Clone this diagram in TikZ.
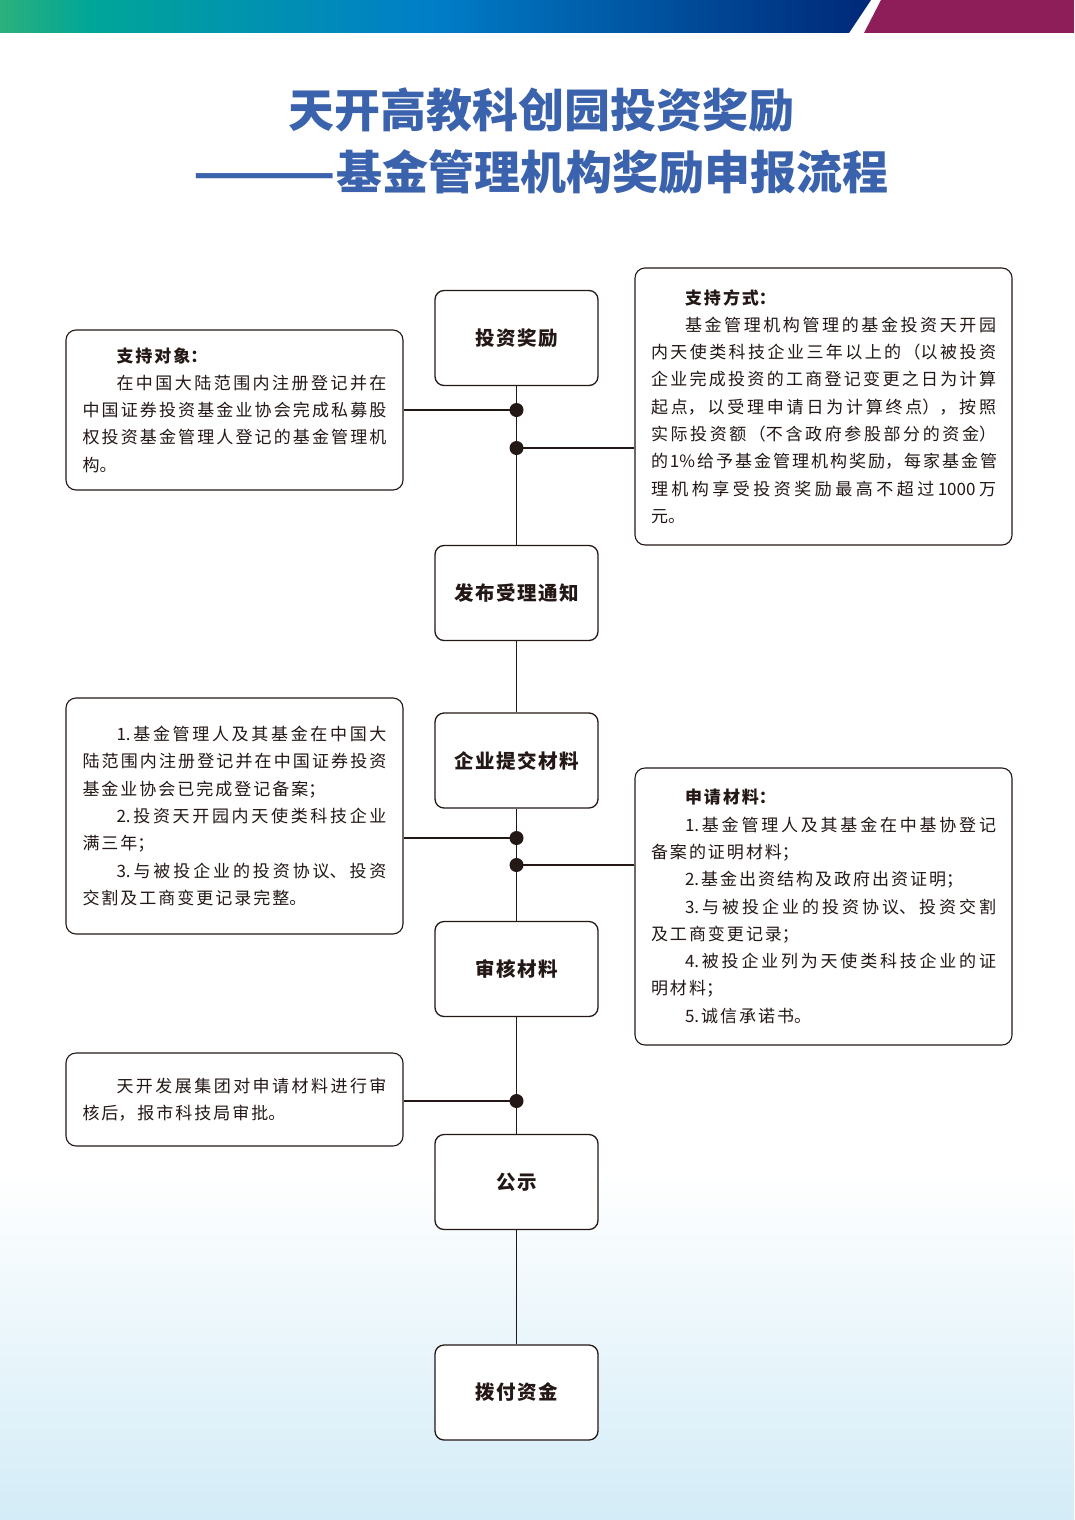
\documentclass[tikz,border=0pt]{standalone}
\usepackage{fontspec}
\usepackage{xcolor}
\usepackage{graphicx}
\setmainfont{Noto Sans CJK SC}
\newfontfamily\titlefont{Noto Sans CJK SC}
\newfontfamily\stepfont{Noto Sans CJK SC}
\newfontfamily\bodyfont{Noto Sans CJK SC}
\XeTeXlinebreaklocale "zh"
\XeTeXlinebreakskip=0pt plus 3pt\relax
\XeTeXlinebreakpenalty=10000\relax
\newcommand\titlesetup{\titlefont\bfseries\fontsize{46}{50}\selectfont\XeTeXlinebreakskip=0pt\relax}
\newcommand\stepsetup{\stepfont\bfseries\fontsize{19.5}{24}\selectfont\XeTeXlinebreakskip=1.6pt\relax}
\newcommand\bodysetup{\bodyfont\fontsize{17}{27.3}\selectfont\XeTeXlinebreakskip=2pt plus 3pt\relax}
\definecolor{ink}{RGB}{35,24,21}
\definecolor{titleblue}{RGB}{59,98,172}
\definecolor{bgreen}{RGB}{44,176,124}
\definecolor{bteal}{RGB}{0,166,152}
\definecolor{bblue}{RGB}{0,126,200}
\definecolor{bnavy}{RGB}{0,40,120}
\definecolor{bmagenta}{RGB}{142,30,90}
\definecolor{bgblue}{RGB}{211,236,247}

\begin{document}
\begin{tikzpicture}[x=1pt, y=-1pt,
    title/.style = {inner sep=0pt, text=titleblue, font=\titlesetup},
    stepbox/.style = {draw=ink, line width=1.3pt, rounded corners=9pt, fill=white, minimum width=163pt, minimum height=95pt, text width=150pt, align=center, inner sep=0pt, text=ink, font=\stepsetup},
    sidebox/.style = {draw=ink, line width=1.1pt, rounded corners=10pt, fill=white, align=justify, inner ysep=0pt, text=ink, font=\bodysetup},
    leftbox/.style = {sidebox, text width=304pt, inner xsep=16.5pt},
    rightbox/.style = {sidebox, text width=345pt, inner xsep=16pt},
    link/.style = {draw=ink, line width=1.6pt},
    dot/.style = {fill=ink}]
    \useasboundingbox (0,0) rectangle (1074,1520);
    % background and top banner
    \fill[white] (0,0) rectangle (1074,1520);
    \shade[top color=white, bottom color=bgblue] (0,1170) rectangle (1074,1520);
    \shade[left color=bgreen, right color=bteal] (0,0) rectangle (91,33);
    \shade[left color=bteal, right color=bblue] (90,0) rectangle (431,33);
    \shade[left color=bblue, right color=bnavy] (430,0) -- (871,0) -- (849,33) -- (430,33) -- cycle;
    \fill[bmagenta] (881,0) -- (1074,0) -- (1074,33) -- (864,33) -- cycle;

    \node[title] (title1) at (541,110) {天开高教科创园投资奖励};
    \node[title] (title2) at (541,172) {\scalebox{1.23}[1]{———}基金管理机构奖励申报流程};

    \node[stepbox] (award) at (516.5,338) {投资奖励};
    \node[stepbox] (notice) at (516.5,593) {发布受理通知};
    \node[stepbox] (submit) at (516.5,760.5) {企业提交材料};
    \node[stepbox] (review) at (516.5,969) {审核材料};
    \node[stepbox] (publicity) at (516.5,1182) {公示};
    \node[stepbox] (pay) at (516.5,1392.5) {拨付资金};

    \node[leftbox, minimum height=160pt] (target) at (234.5,410) {%
        \hspace*{2em}{\bfseries 支持对象：}\\
        \hspace*{2em}在中国大陆范围内注册登记并在\linebreak
        中国证券投资基金业协会完成私募股\linebreak
        权投资基金管理人登记的基金管理机\linebreak
        构。};
    \node[rightbox, minimum height=277pt] (mode) at (823.5,406.5) {%
        \hspace*{2em}{\bfseries 支持方式：}\\
        \hspace*{2em}基金管理机构管理的基金投资天开园\linebreak
        内天使类科技企业三年以上的（以被投资\linebreak
        企业完成投资的工商登记变更之日为计算\linebreak
        起点，以受理申请日为计算终点），按照\linebreak
        实际投资额（不含政府参股部分的资金）\linebreak
        的1\%给予基金管理机构奖励，每家基金管\linebreak
        理机构享受投资奖励最高不超过1000万\linebreak
        元。};
    \node[leftbox, minimum height=236pt] (cond) at (234.5,816) {%
        \hspace*{2em}1.基金管理人及其基金在中国大\linebreak
        陆范围内注册登记并在中国证券投资\linebreak
        基金业协会已完成登记备案；\\
        \hspace*{2em}2.投资天开园内天使类科技企业\linebreak
        满三年；\\
        \hspace*{2em}3.与被投企业的投资协议、投资\linebreak
        交割及工商变更记录完整。};
    \node[rightbox, minimum height=277pt] (docs) at (823.5,906.5) {%
        \hspace*{2em}{\bfseries 申请材料：}\\
        \hspace*{2em}1.基金管理人及其基金在中基协登记\linebreak
        备案的证明材料；\\
        \hspace*{2em}2.基金出资结构及政府出资证明；\\
        \hspace*{2em}3.与被投企业的投资协议、投资交割\linebreak
        及工商变更记录；\\
        \hspace*{2em}4.被投企业列为天使类科技企业的证\linebreak
        明材料；\\
        \hspace*{2em}5.诚信承诺书。};
    \node[leftbox, minimum height=93pt] (audit) at (234.5,1099.5) {%
        \hspace*{2em}天开发展集团对申请材料进行审\linebreak
        核后，报市科技局审批。};

    \coordinate (d1) at (516.5,410);
    \coordinate (d2) at (516.5,448);
    \coordinate (d3) at (516.5,838);
    \coordinate (d4) at (516.5,865);
    \coordinate (d5) at (516.5,1101);

    \draw[link] (award) -- (notice) -- (submit) -- (review) -- (publicity) -- (pay);
    \draw[link] (target) -- (d1);
    \draw[link] (d2) -- (d2 -| mode.west);
    \draw[link] (d3 -| cond.east) -- (d3);
    \draw[link] (d4) -- (d4 -| docs.west);
    \draw[link] (d5 -| audit.east) -- (d5);
    \foreach \d in {d1,d2,d3,d4,d5}
        \fill[dot] (\d) circle[radius=7pt];
\end{tikzpicture}
\end{document}
